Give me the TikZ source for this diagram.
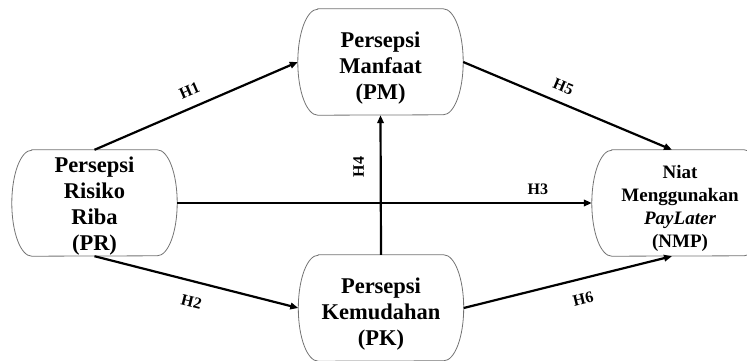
\documentclass[tikz,border=0pt]{standalone}
\usepackage{fontspec}
\setmainfont{Liberation Serif}
\usetikzlibrary{arrows.meta}
\tikzset{
  capbox/.style={rectangle, minimum width=165pt, minimum height=106pt, inner sep=0pt},
  boxtext/.style={inner sep=0pt, align=center, font=\fontsize{22.5}{26}\selectfont\bfseries},
  arr/.style={line width=2.2pt, -{Triangle[length=8pt,width=6.5pt]}},
  lab/.style={font=\fontsize{16}{16}\selectfont\bfseries, sloped, inner sep=2pt},
  labv/.style={font=\fontsize{16}{16}\selectfont\bfseries, rotate=90, inner sep=2pt},
  outline/.style={draw=black!55, line width=0.8pt}
}
\newcommand\capsuleoutline[1]{\draw[outline] ([xshift=20pt]#1.north west) -- ([xshift=-20pt]#1.north east)
  arc[start angle=90,end angle=-90,x radius=20pt,y radius=53pt] -- ([xshift=20pt]#1.south west)
  arc[start angle=270,end angle=90,x radius=20pt,y radius=53pt] -- cycle;}
\begin{document}
\begin{tikzpicture}[x=1pt,y=1pt]
\useasboundingbox (0,0) rectangle (747,360);
\node[capbox] (pr) at (94.5,157) {};
\node[capbox] (pm) at (380.5,298) {};
\node[capbox] (pk) at (381,52) {};
\node[capbox, minimum width=172pt] (nmp) at (678,157) {};
\node[boxtext] (prt) at ([yshift=-3pt]pr.center) {Persepsi\\Risiko\\Riba\\(PR)};
\node[boxtext] (pmt) at ([yshift=-6pt]pm.center) {Persepsi\\Manfaat\\(PM)};
\node[boxtext] (pkt) at ([yshift=-6pt]pk.center) {Persepsi\\Kemudahan\\(PK)};
\node[boxtext, font=\fontsize{19}{23}\selectfont\bfseries] (nmpt) at ([xshift=2pt,yshift=-5pt]nmp.center)
  {Niat\\Menggunakan\\{\itshape PayLater}\\(NMP)};
\capsuleoutline{pr}
\capsuleoutline{pm}
\capsuleoutline{pk}
\capsuleoutline{nmp}
\draw[arr] (pr.north) -- node[lab, pos=0.5, above=8.4pt] {H1} (pm.west);
\draw[arr] (pm.east) -- node[lab, pos=0.45, above=7.4pt] {H5} ([xshift=-6pt]nmp.north);
\draw[arr] (pr.east) -- node[lab, pos=0.87, above=5.7pt] {H3} (nmp.west);
\draw[arr] (pr.south) -- node[lab, pos=0.5, below=11.7pt] {H2} (pk.west);
\draw[arr] (pk.east) -- node[lab, pos=0.55, below=11.7pt] {H6} ([xshift=-6pt]nmp.south);
\draw[arr] (pk.north) -- node[labv, pos=0.63, above=13.7pt] {H4} (pm.south);
\end{tikzpicture}
\end{document}
